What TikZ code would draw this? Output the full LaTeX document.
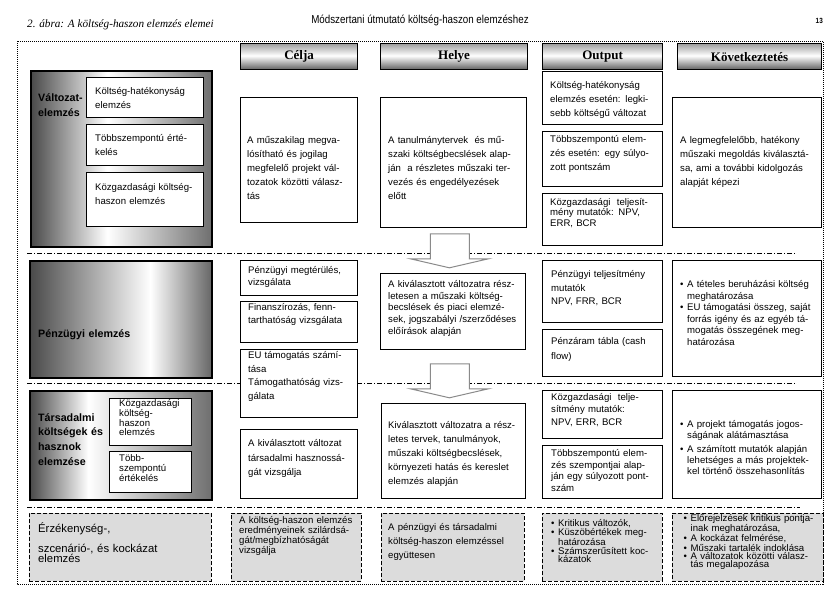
\documentclass[tikz,border=0pt]{standalone}
\usepackage{fontspec}
\setmainfont{Liberation Sans}
\newfontfamily\serifhead{Liberation Serif}
\newfontfamily\narrowhead[FakeStretch=0.85]{Liberation Sans}
\usetikzlibrary{positioning,calc}
\definecolor{kbgray}{HTML}{8A8A8A}
\definecolor{kbfill}{HTML}{DCDCDC}
\definecolor{kbdark}{HTML}{4A4A4A}
\newcommand\kbitem{\makebox[7pt][l]{\textbullet}}
\newcommand\kbindent{\hspace*{7pt}}
\lineskiplimit=-\maxdimen
\pgfdeclarehorizontalshading{sideshadeA}{100bp}{color(0bp)=(kbdark); color(25bp)=(kbdark); color(46bp)=(white); color(75bp)=(kbdark!80); color(100bp)=(kbdark!80)}
\pgfdeclarehorizontalshading{sideshadeB}{100bp}{color(0bp)=(kbdark); color(25bp)=(kbdark); color(58bp)=(white); color(75bp)=(kbdark!85); color(100bp)=(kbdark!85)}
\pgfdeclarehorizontalshading{sideshadeC}{100bp}{color(0bp)=(kbdark); color(25bp)=(kbdark); color(41bp)=(white); color(75bp)=(kbdark!80); color(100bp)=(kbdark!80)}
\pgfdeclareverticalshading{headshade}{100bp}{color(0bp)=(black!62); color(25bp)=(black!62); color(52bp)=(white); color(75bp)=(black!38); color(100bp)=(black!38)}
\tikzset{
    cell/.style={draw, fill=white, line width=0.8pt, anchor=north west, inner sep=0pt},
    headbox/.style={draw, line width=1.2pt, anchor=north west, inner sep=0pt,
        shade, shading=headshade,
        font=\serifhead\bfseries\fontsize{13}{13}\selectfont},
    sidebox/.style={draw, line width=2.4pt, anchor=north west, inner sep=0pt,
        shade, shading=#1},
    sensbox/.style={draw, line width=0.8pt, dash pattern=on 4pt off 2pt,
        fill=kbfill, anchor=north west, inner sep=0pt},
    txt/.style={anchor=base west, inner sep=0pt, text width=150pt, align=left,
        font=\fontsize{9.6}{#1}\selectfont},
    txt/.default=14,
    lbl/.style={anchor=base west, inner sep=0pt, text width=170pt, align=left,
        font=\bfseries\fontsize{10.7}{#1}\selectfont},
    lbl/.default=15,
    blockarrow/.style={draw=kbgray, fill=white, line width=1pt},
    sepline/.style={line width=0.8pt, dash pattern=on 5pt off 2pt on 1pt off 2pt},
    frameline/.style={line width=0.8pt, dash pattern=on 1pt off 1pt},
}
\begin{document}
\begin{tikzpicture}[x=1pt, y=-1pt]
    \useasboundingbox (0,0) rectangle (840,595);

    % ── Page header ────────────────────────────────────────────────────────
    \node[anchor=base west, inner sep=0pt,
        font=\serifhead\itshape\fontsize{11.2}{12}\selectfont] (caption) at (27,27)
        {2. ábra: A költség-haszon elemzés elemei};
    \node[anchor=base, inner sep=0pt,
        font=\narrowhead\fontsize{11.5}{12}\selectfont] (title) at (420,23)
        {Módszertani útmutató költség-haszon elemzéshez};
    \node[anchor=base east, inner sep=0pt,
        font=\narrowhead\bfseries\fontsize{7.5}{8}\selectfont] (pagenum) at (823,23) {13};

    % ── Frame and row separators ───────────────────────────────────────────
    \draw[frameline] (17,41) rectangle (823,584);
    \draw[sepline] (27,253) -- (795,253);
    \draw[sepline] (27,383) -- (795,383);
    \draw[sepline] (27,507) -- (800,507);

    % ── Column headers ─────────────────────────────────────────────────────
    \node[headbox, minimum width=117, minimum height=26] (hcelja) at (240,43) {Célja};
    \node[headbox, minimum width=147, minimum height=26] (hhelye) at (380,43) {Helye};
    \node[headbox, minimum width=120, minimum height=26] (houtput) at (542,43) {Output};
    \node[headbox, minimum width=144, minimum height=26] (hkov) at (677,43) {Következtetés};

    % ── Row 1: Változatelemzés ─────────────────────────────────────────────
    \node[sidebox=sideshadeA, minimum width=181, minimum height=176] (valt) at (30,70) {};
    \node[lbl=15.5] (valtt) at (38,101) {Változat-\\elemzés};
    \node[cell, minimum width=117, minimum height=40] (valt1) at (86,77) {};
    \node[txt=13.5] (valt1t) at (95,94.5) {Költség-hatékonyság\\elemzés};
    \node[cell, minimum width=117, minimum height=41] (valt2) at (86,124) {};
    \node[txt] (valt2t) at (95,141.5) {Többszempontú érté-\\kelés};
    \node[cell, minimum width=117, minimum height=54] (valt3) at (86,172) {};
    \node[txt] (valt3t) at (95,190.5) {Közgazdasági költség-\\haszon elemzés};

    \node[cell, minimum width=117, minimum height=125] (celja1) at (240,97) {};
    \node[txt] (celja1t) at (247,143.5)
        {A műszakilag megva-\\lósítható és jogilag\\megfelelő projekt vál-\\tozatok közötti válasz-\\tás};

    \node[cell, minimum width=146, minimum height=130] (helye1) at (380,97) {};
    \node[txt] (helye1t) at (388,143.5)
        {A tanulmánytervek\ \ és mű-\\szaki költségbecslések alap-\\ján\ \ a részletes műszaki ter-\\vezés és engedélyezések\\előtt};

    \node[cell, minimum width=120, minimum height=53] (output1) at (542,71) {};
    \node[txt] (output1t) at (550,88.5)
        {Költség-hatékonyság\\elemzés esetén: legki-\\sebb költségű változat};
    \node[cell, minimum width=120, minimum height=55] (output2) at (542,131) {};
    \node[txt=13.8] (output2t) at (550,142.5)
        {Többszempontú elem-\\zés esetén: egy súlyo-\\zott pontszám};
    \node[cell, minimum width=120, minimum height=52] (output3) at (542,193) {};
    \node[txt=10.5] (output3t) at (550,205)
        {Közgazdasági\ \ teljesít-\\mény mutatók: NPV,\\ERR, BCR};

    \node[cell, minimum width=149, minimum height=130] (kov1) at (672,97) {};
    \node[txt] (kov1t) at (680,143.5)
        {A legmegfelelőbb, hatékony\\műszaki megoldás kiválasztá-\\sa, ami a további kidolgozás\\alapját képezi};

    % ── Row 2: Pénzügyi elemzés ────────────────────────────────────────────
    \node[sidebox=sideshadeB, minimum width=182, minimum height=117] (penz) at (29,260) {};
    \node[lbl] (penzt) at (38,337) {Pénzügyi elemzés};

    \node[cell, minimum width=117, minimum height=35] (celja2) at (240,260) {};
    \node[txt=11.5] (celja2t) at (248,273.5) {Pénzügyi megtérülés,\\vizsgálata};
    \node[cell, minimum width=117, minimum height=41] (celja3) at (240,301) {};
    \node[txt=13] (celja3t) at (248,310) {Finanszírozás, fenn-\\tarthatóság vizsgálata};
    \node[cell, minimum width=117, minimum height=68] (celja4) at (240,349) {};
    \node[txt=13.5] (celja4t) at (248,358.5)
        {EU támogatás számí-\\tása\\Támogathatóság vizs-\\gálata};

    \node[cell, minimum width=145, minimum height=76] (helye2) at (380,273) {};
    \node[txt=11.7] (helye2t) at (388,287.5)
        {A kiválasztott változatra rész-\\letesen a műszaki költség-\\becslések és piaci elemzé-\\sek, jogszabályi /szerződéses\\előírások alapján};

    \node[cell, minimum width=120, minimum height=62] (output4) at (542,260) {};
    \node[txt=13.7] (output4t) at (551,277.5) {Pénzügyi teljesítmény\\mutatók\\NPV, FRR, BCR};
    \node[cell, minimum width=120, minimum height=47] (output5) at (542,329) {};
    \node[txt=15] (output5t) at (551,344.5) {Pénzáram tábla (cash\\flow)};

    \node[cell, minimum width=149, minimum height=116] (kov2) at (672,260) {};
    \node[txt=11.6] (kov2t) at (680,287.5)
        {\kbitem A tételes beruházási költség\\\kbindent meghatározása\\
         \kbitem EU támogatási összeg, saját\\\kbindent forrás igény és az egyéb tá-\\
         \kbindent mogatás összegének meg-\\\kbindent határozása};

    % ── Row 3: Társadalmi költségek és hasznok ─────────────────────────────
    \node[sidebox=sideshadeC, minimum width=182, minimum height=109] (tars) at (29,390) {};
    \node[lbl=14.7] (tarst) at (38,421) {Társadalmi\\költségek és\\hasznok\\elemzése};
    \node[cell, minimum width=82, minimum height=47] (tars1) at (109,398) {};
    \node[txt=9.8] (tars1t) at (119,406.5) {Közgazdasági\\költség-\\haszon\\elemzés};
    \node[cell, minimum width=82, minimum height=41] (tars2) at (109,451) {};
    \node[txt=10] (tars2t) at (119,461) {Több-\\szempontú\\értékelés};

    \node[cell, minimum width=117, minimum height=69] (celja5) at (240,429) {};
    \node[txt=14.5] (celja5t) at (248,446.5)
        {A kiválasztott változat\\társadalmi hasznossá-\\gát vizsgálja};

    \node[cell, minimum width=144, minimum height=95] (helye3) at (381,403) {};
    \node[txt] (helye3t) at (388,428)
        {Kiválasztott változatra a rész-\\letes tervek, tanulmányok,\\műszaki költségbecslések,\\környezeti hatás és kereslet\\elemzés alapján};

    \node[cell, minimum width=120, minimum height=48] (output6) at (542,390) {};
    \node[txt=12.5] (output6t) at (551,400)
        {Közgazdasági\ \ telje-\\sítmény mutatók:\\NPV, ERR, BCR};
    \node[cell, minimum width=120, minimum height=53] (output7) at (542,445) {};
    \node[txt=11.7] (output7t) at (551,456.5)
        {Többszempontú elem-\\zés szempontjai alap-\\ján egy súlyozott pont-\\szám};

    \node[cell, minimum width=149, minimum height=108] (kov3) at (672,390) {};
    \node[txt=10.8] (kov3t) at (680,427.5)
        {\kbitem A projekt támogatás jogos-\\\kbindent ságának alátámasztása\\[3.5pt]
         \kbitem A számított mutatók alapján\\\kbindent lehetséges a más projektek-\\
         \kbindent kel történő összehasonlítás};

    % ── Block arrows between the Helye boxes ───────────────────────────────
    \draw[blockarrow] ($(helye1.south)+(-23,6)$) -- ++(39,0) -- ++(0,25)
        -- ++(19,0) -- ++(-39,9) -- ++(-39,-9) -- ++(20,0) -- cycle;
    \draw[blockarrow] ($(helye2.south)+(-22.5,14)$) -- ++(39,0) -- ++(0,25)
        -- ++(19,0) -- ++(-39,9) -- ++(-39,-9) -- ++(20,0) -- cycle;

    % ── Row 4: Érzékenység-, szcenárió- és kockázatelemzés ─────────────────
    \node[sensbox, minimum width=182, minimum height=68] (sens) at (29,513) {};
    \node[txt=7.3, font=\fontsize{11.3}{7.3}\selectfont] (senst) at (38,532)
        {Érzékenység-,\\[8.4pt]szcenárió-, és kockázat\\elemzés};
    \node[sensbox, minimum width=130, minimum height=68] (sens1) at (231,513) {};
    \node[txt=7.3] (sens1t) at (239,523.5)
        {A költség-haszon elemzés\\eredményeinek szilárdsá-\\gát/megbízhatóságát\\vizsgálja};
    \node[sensbox, minimum width=143, minimum height=68] (sens2) at (381,513) {};
    \node[txt] (sens2t) at (388,530)
        {A pénzügyi és társadalmi\\költség-haszon elemzéssel\\együttesen};
    \node[sensbox, minimum width=120, minimum height=68] (sens3) at (542,513) {};
    \node[txt=8.2] (sens3t) at (551,526.5)
        {\kbitem Kritikus változók,\\\kbitem Küszöbértékek meg-\\\kbindent határozása\\
         \kbitem Számszerűsített koc-\\\kbindent kázatok};
    \node[sensbox, minimum width=151, minimum height=68] (sens4) at (672,513) {};
    \node[txt=6.8] (sens4t) at (683.5,521.8)
        {\kbitem Előrejelzések kritikus pontja-\\\kbindent inak meghatározása,\\
         \kbitem A kockázat felmérése,\\\kbitem Műszaki tartalék indoklása\\
         \kbitem A változatok közötti válasz-\\\kbindent tás megalapozása};

\end{tikzpicture}
\end{document}
